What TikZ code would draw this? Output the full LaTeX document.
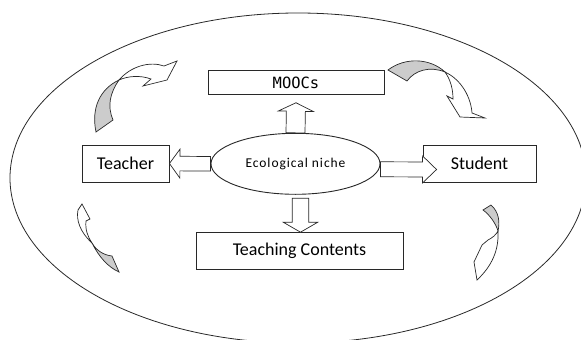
\documentclass[tikz,border=0pt]{standalone}
\usepackage{fontspec}
\setmainfont{Carlito}
\newfontfamily\moocfont{DejaVu Sans Mono}
\usetikzlibrary{calc,shapes.geometric}

\definecolor{tailgray}{RGB}{204,204,204}
\definecolor{linegray}{RGB}{40,40,40}

\tikzset{
  box/.style={draw=linegray, line width=0.9pt, inner sep=0pt, fill=white,
    font=\fontsize{18}{18}\selectfont},
  blk/.style={draw=linegray, line width=0.7pt, fill=white},
  bendtail/.style={draw=linegray, line width=0.7pt, fill=tailgray},
  bendhead/.style={draw=linegray, line width=0.7pt, fill=white},
}

% block arrow: from, to, half shaft, half head, head length
\newcommand{\fatarrow}[5]{%
  \draw[blk] ($(#1)!#3!90:(#2)$) -- ($($(#2)!#5!(#1)$)!#3!90:(#2)$)
    -- ($($(#2)!#5!(#1)$)!#4!90:(#2)$) -- (#2)
    -- ($($(#2)!#5!(#1)$)!#4!-90:(#2)$) -- ($($(#2)!#5!(#1)$)!#3!-90:(#2)$)
    -- ($(#1)!#3!-90:(#2)$) -- cycle;}

\begin{document}
\begin{tikzpicture}[x=1pt,y=-1pt]
        \useasboundingbox (0,0) rectangle (581,340);
        \draw[draw=linegray,line width=0.8pt] (298,178) ellipse [x radius=288, y radius=165];

        \node[box, minimum width=176pt, minimum height=23.6pt, font=\moocfont\fontsize{15.5}{15.5}\selectfont] (moocs) at (296,82.5) {MOOCs};
        \node[box, minimum width=87pt, minimum height=37pt] (teacher) at (125.5,163.5) {Teacher};
        \node[box, minimum width=113pt, minimum height=37pt] (student) at (479.5,163.5) {Student};
        \node[box, minimum width=207pt, minimum height=36.7pt] (contents) at (299.5,251) {Teaching Contents};
        \node[box, ellipse, minimum width=169pt, minimum height=61pt, font=\fontsize{13.5}{14}\selectfont\addfontfeature{LetterSpace=7}] (niche) at (295.5,163.8) {Ecological niche};

        % ends of the block arrows
        \coordinate (moocsin) at ([yshift=-8pt]moocs.south);
        \coordinate (nicheE) at ([yshift=-5.5pt]niche.east);
        \coordinate (studin) at ([xshift=14pt,yshift=-6pt]student.west);
        \coordinate (nicheS) at ([xshift=5pt,yshift=-3.4pt]niche.south);
        \coordinate (contin) at ([xshift=1pt]contents.north);

        \fatarrow{niche.north}{moocsin}{9.5pt}{17.5pt}{8.5pt}
        \fatarrow{niche.west}{teacher.east}{7.3pt}{14.5pt}{10.5pt}
        \fatarrow{nicheE}{studin}{7.5pt}{13.5pt}{14pt}
        \fatarrow{nicheS}{contin}{8.3pt}{17.3pt}{10pt}

        % curved arrows round the niche
        \draw[bendtail] (96,132) .. controls (91,108) and (100,89) .. (119,80) .. controls (110,93) and (107,106) .. (113,120) -- cycle;
        \draw[bendhead] (119,80) .. controls (131,66) and (150,61) .. (164,66) -- (177,61) -- (167,80) -- (143,86) -- (151,79) .. controls (140,75) and (128,76) .. (119,80) -- cycle;

        \draw[bendtail] (388,70) .. controls (405,57) and (430,58) .. (445,72) .. controls (430,66) and (415,70) .. (407,81) -- cycle;
        \draw[bendhead] (445,72) .. controls (462,80) and (471,98) .. (472,113) -- (485,118) -- (460,117) -- (447,96) -- (453,99) .. controls (453,88) and (450,79) .. (445,72) -- cycle;

        \draw[bendtail] (483,210) -- (491,205) .. controls (499,212) and (500,222) .. (498,231) .. controls (496,224) and (490,215) .. (483,210) -- cycle;
        \draw[bendhead] (498,231) .. controls (499,250) and (492,266) .. (477,280) -- (474,262) -- (482,245) -- (488,240) .. controls (492,238) and (496,235) .. (498,231) -- cycle;

        \draw[bendtail] (92,243) .. controls (99,257) and (108,267) .. (119,272) -- (112,256) .. controls (103,255) and (96,250) .. (92,243) -- cycle;
        \draw[bendhead] (92,243) .. controls (80,232) and (76,220) .. (78,210) -- (82,204) -- (90,219) -- (86,221) .. controls (85,230) and (88,237) .. (92,243) -- cycle;
      \end{tikzpicture}
\end{document}
